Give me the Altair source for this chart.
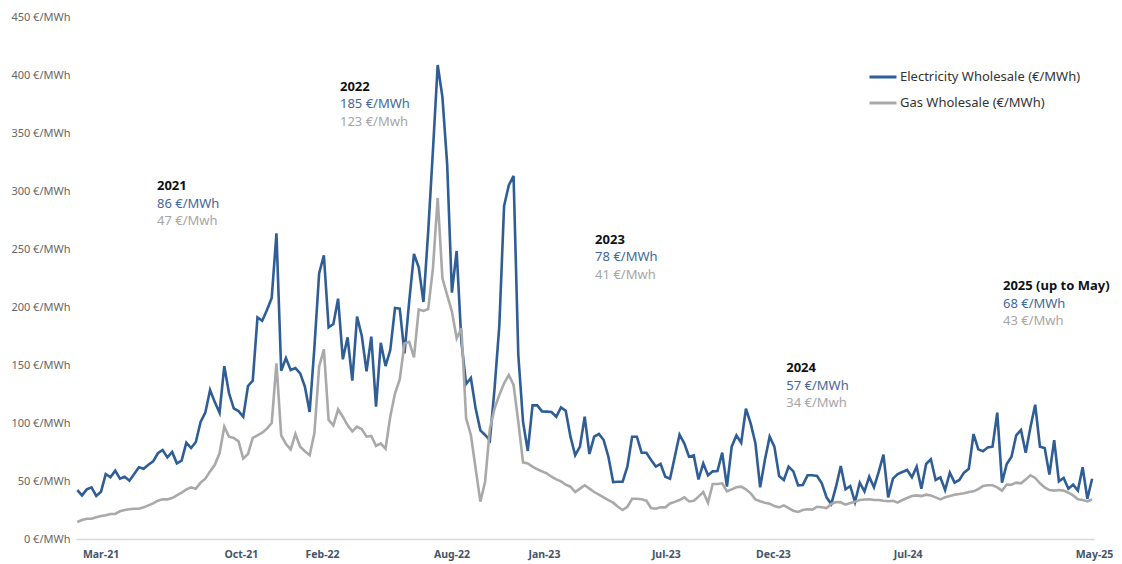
import altair as alt
import pandas as pd

# ---------------- data (weekly wholesale prices, €/MWh) ----------------
elec_2021 = [42.2, 37.6, 42.8, 44.5, 37.1, 40.8, 56, 53.2, 58.9, 52, 53.7, 50.3, 56, 61.8,
             60.6, 64, 66.9, 73.9, 76.7, 70.4, 75, 65.2, 67.5, 83, 78.4, 83.6, 100.9, 108.9,
             128.4, 118, 108.9, 149, 125.6, 112.6, 110.3, 105.4]
elec_2022a = [131.9, 136.5, 191.1, 188.2, 197.4, 207.8, 263.5, 145, 156, 145.7, 147.4, 142.8,
              131.3, 109.5, 165, 229, 244.6, 182.5, 185.3, 207.2, 154.9, 173.9, 136.5, 191.7,
              175, 144.5, 174.4, 114.1, 169.2, 149.1, 162.9, 199.1, 198.6, 160.1]
elec_2022b = [205, 245.7, 234.2, 204.3, 265, 335, 408.6, 381, 323, 212.4, 248.3, 170, 133.6,
              138.8, 112.6, 93.7, 89.7, 85.1, 130, 184, 287, 305, 313, 158.6, 101, 75.9]
elec_2023 = [115.2, 115.2, 110, 109.8, 109.5, 105.4, 113.5, 110.6, 88.2, 72.2, 79.6, 105.4,
             73.3, 88.2, 90.5, 85.3, 70.9, 49.1, 49.4, 49.4, 62.4, 88.2, 88.2, 74.4, 74.4, 68.1,
             62.4, 64.7, 53.7, 52, 70.9, 89.9, 82.5, 70.9, 72, 51.4, 65.2, 54.9, 58.3, 58.6,
             74.4, 45.1]
elec_2024a = [79.6, 89.4, 83, 112.3, 99.7, 82.5, 44.6, 68.1, 88.2, 79.6, 54.3, 50.9, 62.4,
              58.3, 46.3, 46.6, 54.9, 54.9, 54.3, 48, 35.9, 30.2, 45.1, 62.9, 42.8, 45.7, 31.9,
              48.5, 41, 53.7, 44.6, 57.8, 72.7, 35.9, 52]
elec_2024b = [56, 57.8, 59.5, 53.2, 62.4, 43.4, 64.7, 68.7, 50.9, 53.2, 42.2, 57.2, 48.6, 50.9,
              57.2, 60.6, 90.5, 77.3, 75.6, 79, 79.6, 108.9, 48.6, 64.7, 70.9, 89.4, 94, 74.4,
              96.3, 115.8, 79.6, 78.4, 55.5, 85.3, 49.7, 52.6, 43.4, 46.8, 41.7, 61.8, 34.7, 52]

gas_2021 = [14.7, 16.4, 17.5, 17.5, 18.7, 19.8, 20.4, 21.6, 21.6, 23.9, 25, 25.6, 26.1, 26.1,
            27.3, 29, 30.7, 33, 34.2, 34.2, 35.3, 37.6, 39.9, 42.8, 44.5, 43.4, 48.6, 52, 58.3,
            64, 73.9, 96.8, 88.2, 87.1, 84.2, 69.3]
gas_2022a = [73.3, 87.1, 89.4, 91.7, 95.1, 100, 151.4, 89.4, 81.9, 77.3, 90.5, 79.6, 75.6, 72.2,
             91.1, 148.5, 163.5, 102.6, 98, 111.8, 105.4, 98, 92.8, 96.8, 94.6, 88.2, 88.8, 80.2,
             82.5, 77.8, 105.4, 125.6, 137.6, 168.6]
gas_2022b = [170, 156.6, 197.8, 196.6, 198.3, 233.3, 294, 224.7, 210.3, 196, 173, 181.6, 104,
             89.7, 60.9, 32.2, 49.4, 95, 112.6, 124.1, 134.2, 141.4, 132.8, 101, 66.1, 65.2]
gas_2023 = [62.4, 60.1, 58.3, 56.6, 53.7, 51.4, 49.7, 46.8, 45.1, 40.5, 43.4, 46.3, 43.4, 40.5,
            38.2, 35.9, 33.6, 31.3, 27.8, 25, 27.8, 34.7, 34.7, 34.2, 33, 26.7, 26.1, 27.3, 27.3,
            30.7, 32, 33.6, 35.9, 32.4, 33, 36.5, 40.5, 31.3, 47.4, 47.4, 48, 41.1]
gas_2024a = [42.8, 44.6, 45.1, 42.8, 39.4, 34.2, 32.5, 31.3, 30.5, 28.4, 27.3, 29, 26.7, 24.4,
             23.3, 25, 25.6, 25.3, 27.8, 27.3, 26.7, 30.2, 31.9, 31.6, 29.6, 31, 32, 33.6, 34,
             34.2, 33.6, 33.6, 33, 32.5, 33]
gas_2024b = [31.5, 33.6, 35.3, 37.1, 37.6, 37, 38.2, 37.5, 35.9, 34.2, 36, 37.1, 38.2, 38.8,
             39.5, 40.5, 41.1, 43, 45.7, 46.3, 46.3, 44.5, 41.7, 47, 46.8, 48.6, 48, 51.4, 54.9,
             52.6, 48, 44.5, 42.2, 41.7, 42.2, 41.7, 39.9, 37.6, 34.2, 33.6, 32.5, 34.2]

electricity = elec_2021 + elec_2022a + elec_2022b + elec_2023 + elec_2024a + elec_2024b
gas = gas_2021 + gas_2022a + gas_2022b + gas_2023 + gas_2024a + gas_2024b
assert len(electricity) == len(gas)

# x-axis ticks (week index) and their labels
tick_weeks = [4.9, 34.5, 51.6, 78.9, 98.4, 124.1, 146.7, 175.1, 214.4]
tick_labels = ["Mar-21", "Oct-21", "Feb-22", "Aug-22", "Jan-23", "Jul-23", "Dec-23", "Jul-24", "May-25"]
y_ticks = [0, 50, 100, 150, 200, 250, 300, 350, 400, 450]

# yearly average annotations
years = ["2021", "2022", "2023", "2024", "2025 (up to May)"]
elec_avg = ["86 €/MWh", "185 €/MWh", "78 €/MWh", "57 €/MWh", "68 €/MWh"]
gas_avg = ["47 €/Mwh", "123 €/Mwh", "41 €/Mwh", "34 €/Mwh", "43 €/Mwh"]
ann_week = [16.8, 55.4, 109.2, 149.5, 195.2]
ann_level = [304.3, 389.7, 257.8, 147.4, 218.1]

SER_E = "Electricity Wholesale (€/MWh)"
SER_G = "Gas Wholesale (€/MWh)"
BLUE = "#2F5D95"
GREY = "#A9A9A9"
FONT = "Noto Sans"

n = len(electricity)
df = pd.DataFrame({
    "week": list(range(n)) * 2,
    "price": electricity + gas,
    "series": [SER_E] * n + [SER_G] * n,
})
ann = pd.DataFrame({"week": ann_week, "level": ann_level, "year": years,
                    "e": elec_avg, "g": gas_avg})

label_expr = "''"
for v, lab in reversed(list(zip(tick_weeks, tick_labels))):
    label_expr = f"datum.value == {v} ? '{lab}' : ({label_expr})"

x_enc = alt.X(
    "week:Q",
    scale=alt.Scale(domain=[-0.27, 214.4], nice=False, zero=False),
    axis=alt.Axis(values=tick_weeks, labelExpr=label_expr, title=None, ticks=False,
                  grid=False, domainColor="#D9D9D9", domainWidth=1.5, labelFont=FONT,
                  labelFontWeight="bold", labelFontSize=10.5, labelColor="#44546A",
                  labelPadding=10, labelFlush=False, labelOverlap=False),
)
y_enc = alt.Y(
    "price:Q",
    scale=alt.Scale(domain=[0, 450], nice=False),
    axis=alt.Axis(values=y_ticks, labelExpr="datum.value + ' €/MWh'", title=None,
                  ticks=False, domain=False, grid=False, labelFont=FONT, labelFontSize=11,
                  labelColor="#666666", labelPadding=6),
)

lines = alt.Chart(df).mark_line(strokeWidth=2.6).encode(
    x=x_enc,
    y=y_enc,
    color=alt.Color(
        "series:N",
        scale=alt.Scale(domain=[SER_E, SER_G], range=[BLUE, GREY]),
        legend=alt.Legend(title=None, orient="none", legendX=792, legendY=45,
                          symbolType="stroke", symbolSize=729, symbolStrokeWidth=3,
                          labelFont=FONT, labelFontSize=13, labelColor="#333333",
                          labelOffset=2, rowPadding=4, padding=0, labelLimit=300),
    ),
)

base_t = alt.Chart(ann).encode(x="week:Q", y="level:Q")
t_year = base_t.mark_text(align="left", baseline="middle", font=FONT, fontSize=13,
                          fontWeight="bold", color="#111111").encode(text="year:N")
t_e = base_t.mark_text(align="left", baseline="middle", font=FONT, fontSize=13,
                       dy=17.5, color="#44689A").encode(text="e:N")
t_g = base_t.mark_text(align="left", baseline="middle", font=FONT, fontSize=13,
                       dy=35, color="#A6A6A6").encode(text="g:N")

chart = alt.layer(lines, t_year, t_e, t_g).properties(
    width=1018, height=522,
    autosize=alt.AutoSizeParams(type="none"),
    padding={"left": 68, "top": 9, "right": 20, "bottom": 22},
).configure_view(stroke=None)

chart.save("out.html", embed_options={"renderer": "svg", "actions": False})
